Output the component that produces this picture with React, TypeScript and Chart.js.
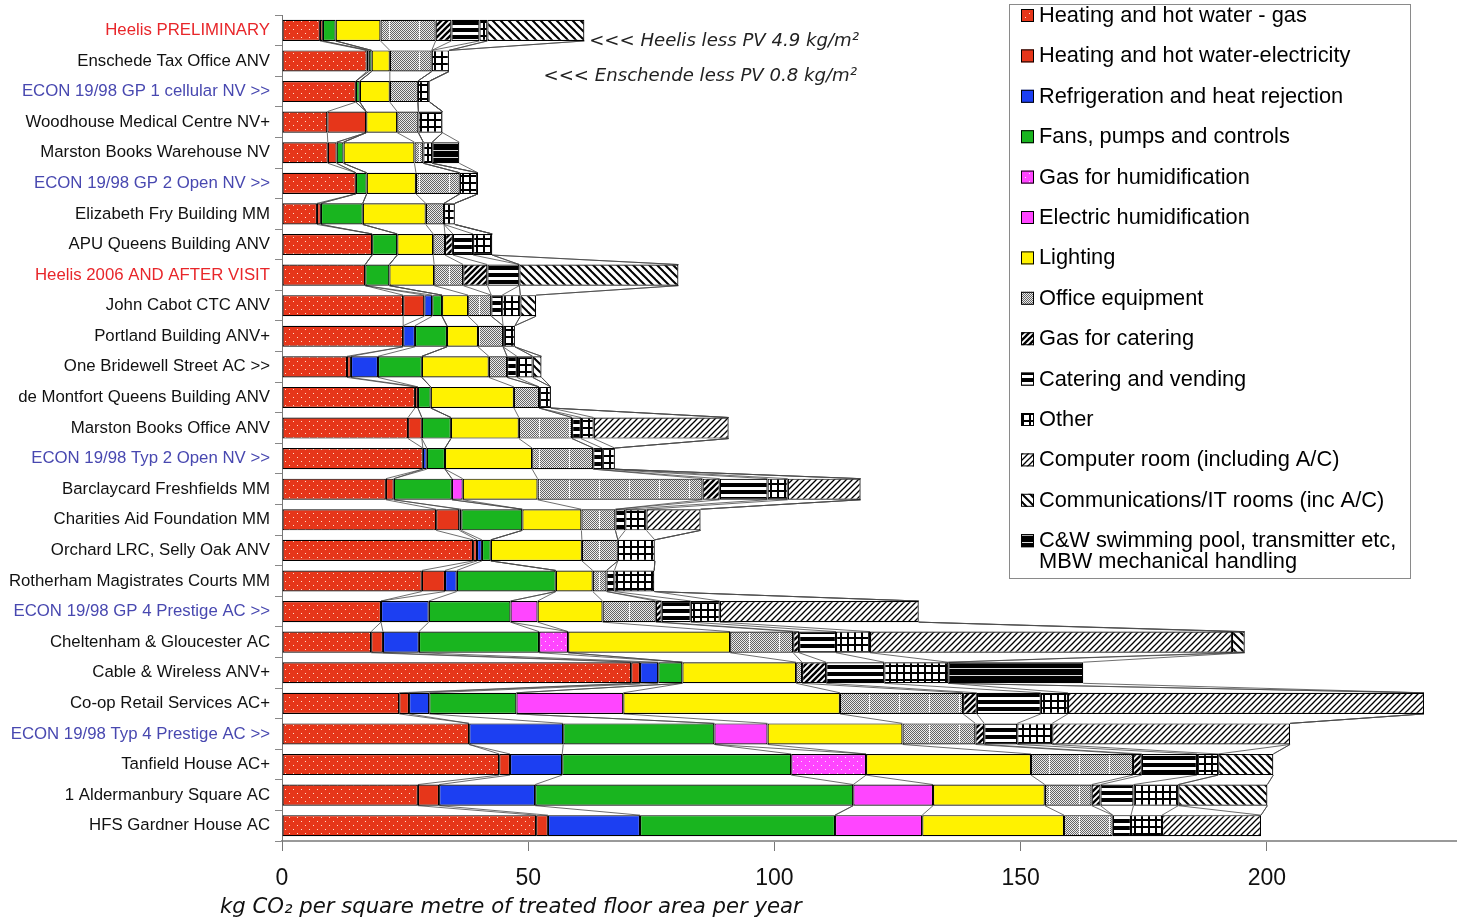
import React, { useEffect, useRef } from 'react';
import { Chart, registerables } from 'chart.js';
Chart.register(...registerables);

const categories = [
  'Heelis PRELIMINARY',
  'Enschede Tax Office ANV',
  'ECON 19/98 GP 1 cellular NV >>',
  'Woodhouse Medical Centre NV+',
  'Marston Books Warehouse NV',
  'ECON 19/98 GP 2 Open NV >>',
  'Elizabeth Fry Building MM',
  'APU Queens Building ANV',
  'Heelis 2006 AND AFTER VISIT',
  'John Cabot CTC ANV',
  'Portland Building ANV+',
  'One Bridewell Street AC >>',
  'de Montfort Queens Building ANV',
  'Marston Books Office ANV',
  'ECON 19/98 Typ 2 Open NV >>',
  'Barclaycard Freshfields MM',
  'Charities Aid Foundation MM',
  'Orchard LRC, Selly Oak ANV',
  'Rotherham Magistrates Courts MM',
  'ECON 19/98 GP 4 Prestige AC >>',
  'Cheltenham & Gloucester AC',
  'Cable & Wireless ANV+',
  'Co-op Retail Services AC+',
  'ECON 19/98 Typ 4 Prestige AC >>',
  'Tanfield House AC+',
  '1 Aldermanbury Square AC',
  'HFS Gardner House AC',
];

const labelKinds = [
  'red', 'black', 'blue', 'black', 'black', 'blue', 'black', 'black', 'red', 'black',
  'black', 'black', 'black', 'black', 'blue', 'black', 'black', 'black', 'black', 'blue',
  'black', 'black', 'black', 'blue', 'black', 'black', 'black',
];

const seriesNames = [
  'Heating and hot water - gas',
  'Heating and hot water-electricity',
  'Refrigeration and heat rejection',
  'Fans, pumps and controls',
  'Gas for humidification',
  'Electric humidification',
  'Lighting',
  'Office equipment',
  'Gas for catering',
  'Catering and vending',
  'Other',
  'Computer room (including A/C)',
  'Communications/IT rooms (inc A/C)',
  'C&W swimming pool, transmitter etc, MBW mechanical handling',
];

const heatGas = [7.7, 17.2, 15.0, 9.2, 9.3, 15.0, 7.1, 18.3, 16.9, 24.6, 24.6, 13.2, 27.0, 25.6, 28.6, 21.1, 31.3, 38.8, 28.4, 20.1, 18.1, 70.9, 23.8, 38.0, 44.1, 27.6, 51.6];
const heatElec = [0.6, 0.4, 0, 7.9, 1.8, 0, 0.8, 0, 0, 4.3, 0, 0.8, 0.6, 2.8, 0, 1.6, 4.7, 0.8, 4.7, 0, 2.4, 1.8, 2.0, 0, 2.2, 4.3, 2.4];
const refrig = [0, 0, 0, 0, 0, 0, 0, 0, 0, 1.6, 2.4, 5.5, 0, 0, 0.8, 0, 0.4, 1.0, 2.4, 9.7, 7.3, 3.7, 4.1, 19.1, 10.6, 19.5, 18.7];
const fans = [2.6, 0.6, 0.8, 0, 1.4, 2.2, 8.5, 5.1, 4.9, 2.0, 6.5, 8.9, 2.6, 5.9, 3.7, 11.8, 12.4, 1.8, 20.1, 16.6, 24.4, 4.9, 17.7, 30.7, 46.5, 64.6, 39.6];
const gasHumid = [0, 0, 0, 0, 0, 0, 0, 0, 0, 0, 0, 0, 0, 0, 0, 0, 0, 0, 0, 0, 5.9, 0, 0, 0, 15.2, 0, 0];
const elecHumid = [0, 0, 0, 0, 0, 0, 0, 0, 0, 0, 0, 0, 0, 0, 0, 2.2, 0, 0, 0, 5.5, 0, 0, 21.7, 10.8, 0, 16.2, 17.7];
const lighting = [9.1, 3.7, 6.1, 6.3, 14.4, 10.0, 12.8, 7.3, 9.1, 5.3, 6.3, 13.6, 16.9, 13.8, 17.7, 15.2, 12.0, 18.5, 7.5, 13.2, 32.9, 23.1, 44.0, 27.4, 33.5, 22.7, 28.8];
const office = [11.2, 8.5, 5.7, 4.3, 1.8, 8.9, 3.7, 2.4, 5.9, 4.7, 5.1, 3.7, 5.1, 10.8, 12.4, 33.5, 6.9, 7.3, 2.8, 10.8, 12.8, 1.2, 25.0, 14.8, 20.7, 9.5, 9.9];
const gasCatering = [3.2, 0, 0, 0, 0, 0, 0, 1.6, 4.9, 0, 0, 0, 0, 0, 0, 3.5, 0, 0, 0, 1.2, 1.2, 4.9, 2.8, 1.8, 1.8, 1.8, 0];
const cateringVending = [5.7, 0, 0, 0, 0, 0, 0, 4.1, 6.5, 2.2, 0, 2.0, 0, 1.8, 1.8, 9.7, 2.0, 0, 1.6, 5.9, 7.5, 11.8, 13.0, 6.7, 11.2, 6.7, 3.7];
const other = [1.6, 3.5, 2.4, 4.9, 1.8, 3.7, 2.2, 3.9, 0, 3.7, 2.4, 3.2, 2.4, 2.6, 2.6, 4.1, 4.3, 7.5, 8.1, 5.9, 6.9, 13.0, 5.5, 7.1, 4.3, 9.1, 6.3];
const computerRoom = [0, 0, 0, 0, 0, 0, 0, 0, 0, 0, 0, 0, 0, 27.4, 0, 14.8, 11.0, 0, 0, 40.4, 73.5, 0, 72.3, 48.3, 0, 0, 20.1];
const commsRooms = [19.7, 0, 0, 0, 0, 0, 0, 0, 32.3, 3.2, 0, 1.8, 0, 0, 0, 0, 0, 0, 0, 0, 2.6, 0, 0, 0, 11.2, 18.1, 0];
const cwSpecial = [0, 0, 0, 0, 5.5, 0, 0, 0, 0, 0, 0, 0, 0, 0, 0, 0, 0, 0, 0, 0, 0, 27.4, 0, 0, 0, 0, 0];

const xTicks = [0, 50, 100, 150, 200];

const seriesData = [heatGas, heatElec, refrig, fans, gasHumid, elecHumid, lighting, office, gasCatering, cateringVending, other, computerRoom, commsRooms, cwSpecial];
const patternKinds = ['dotRed', 'red', 'blue', 'green', 'dotMagenta', 'magenta', 'yellow', 'office', 'gasCater', 'catVend', 'other', 'computer', 'comms', 'cw'];

const RED = '#e6361a';
const MAGENTA = '#ff45ff';

function tile(w: number, h: number, draw: (c: CanvasRenderingContext2D) => void): CanvasPattern {
  const cv = document.createElement('canvas');
  cv.width = w; cv.height = h;
  const c = cv.getContext('2d')!;
  draw(c);
  const probe = document.createElement('canvas').getContext('2d')!;
  return probe.createPattern(cv, 'repeat')!;
}

function diag(c: CanvasRenderingContext2D, s: number, lw: number, forward: boolean) {
  c.fillStyle = '#fff'; c.fillRect(0, 0, s, s);
  c.strokeStyle = '#000'; c.lineWidth = lw;
  const segs = forward
    ? [[-1, s + 1, s + 1, -1], [-1, 1, 1, -1], [s - 1, s + 1, s + 1, s - 1]]
    : [[-1, -1, s + 1, s + 1], [s - 1, -1, s + 1, 1], [-1, s - 1, 1, s + 1]];
  for (const [a, b, d, e] of segs) { c.beginPath(); c.moveTo(a, b); c.lineTo(d, e); c.stroke(); }
}

function makeFill(kind: string): CanvasPattern | string {
  switch (kind) {
    case 'dotRed':
      return tile(8, 8, (c) => { c.fillStyle = RED; c.fillRect(0, 0, 8, 8); c.fillStyle = 'rgba(255,225,205,1)'; c.fillRect(1, 1, 1, 1); c.fillRect(5, 5, 1, 1); });
    case 'red': return RED;
    case 'blue': return '#1c3ff2';
    case 'green': return '#19b51f';
    case 'dotMagenta':
      return tile(8, 8, (c) => { c.fillStyle = MAGENTA; c.fillRect(0, 0, 8, 8); c.fillStyle = '#ffe0ff'; c.fillRect(1, 1, 1, 1); c.fillRect(5, 5, 1, 1); });
    case 'magenta': return MAGENTA;
    case 'yellow': return '#fff200';
    case 'office':
      return tile(30, 4, (c) => {
        c.fillStyle = '#ececec'; c.fillRect(0, 0, 30, 4);
        c.fillStyle = '#666';
        for (let x = 0; x < 29; x++) for (let y = 0; y < 4; y++) if ((x + y) % 2 === 0) c.fillRect(x, y, 1, 1);
        c.fillStyle = '#f6f6f6'; c.fillRect(29, 0, 1, 4);
      });
    case 'gasCater': return tile(6, 6, (c) => diag(c, 6, 2.4, true));
    case 'catVend':
      return tile(4, 7, (c) => { c.fillStyle = '#000'; c.fillRect(0, 0, 4, 7); c.fillStyle = '#fff'; c.fillRect(0, 4, 4, 3); });
    case 'other':
      return tile(7, 7, (c) => { c.fillStyle = '#fff'; c.fillRect(0, 0, 7, 7); c.fillStyle = '#000'; c.fillRect(0, 0, 2, 7); c.fillRect(0, 0, 7, 2); });
    case 'computer': return tile(6, 6, (c) => diag(c, 6, 1.3, true));
    case 'comms': return tile(8, 8, (c) => diag(c, 8, 2, false));
    case 'cw':
      return tile(4, 7, (c) => { c.fillStyle = '#000'; c.fillRect(0, 0, 4, 7); c.fillStyle = '#d8d8d8'; c.fillRect(0, 3, 4, 1); });
  }
  return '#999';
}

const seriesLinesPlugin = {
  id: 'seriesLines',
  beforeDatasetsDraw(chart: any) {
    const { ctx } = chart;
    const xs = chart.scales.x;
    const ds = chart.data.datasets;
    const meta0 = chart.getDatasetMeta(0);
    const n = chart.data.labels.length;
    ctx.save();
    ctx.strokeStyle = '#4a4a4a';
    ctx.lineWidth = 0.8;
    for (let i = 0; i < n - 1; i++) {
      const e1 = meta0.data[i].getProps(['y', 'height'], true);
      const e2 = meta0.data[i + 1].getProps(['y', 'height'], true);
      const y1 = e1.y + e1.height / 2;
      const y2 = e2.y - e2.height / 2;
      let c1 = 0, c2 = 0;
      for (let d = 0; d < ds.length; d++) {
        c1 += ds[d].data[i];
        c2 += ds[d].data[i + 1];
        ctx.beginPath();
        ctx.moveTo(xs.getPixelForValue(c1), y1);
        ctx.lineTo(xs.getPixelForValue(c2), y2);
        ctx.stroke();
      }
    }
    ctx.restore();
  },
};

const decorPlugin = {
  id: 'decor',
  afterDraw(chart: any) {
    const { ctx } = chart;
    ctx.save();
    // Legend box
    ctx.fillStyle = '#fff';
    ctx.fillRect(1009, 4, 401, 574);
    ctx.strokeStyle = '#8a8a8a';
    ctx.lineWidth = 1;
    ctx.strokeRect(1009.5, 4.5, 401, 574);
    ctx.font = '21.8px "Liberation Sans", Arial, sans-serif';
    ctx.textBaseline = 'middle';
    ctx.textAlign = 'left';
    chart.data.datasets.forEach((ds: any, k: number) => {
      const yc = 16 + 40.4 * k;
      ctx.fillStyle = ds.backgroundColor;
      ctx.fillRect(1021, yc - 7, 13, 13);
      ctx.strokeStyle = '#000';
      ctx.lineWidth = 1;
      ctx.strokeRect(1021.5, yc - 6.5, 12, 12);
      ctx.fillStyle = '#000';
      const parts = String(ds.label).split(', MBW');
      if (parts.length > 1) {
        ctx.fillText(parts[0] + ',', 1039, yc);
        ctx.fillText('MBW' + parts[1], 1039, yc + 21);
      } else {
        ctx.fillText(ds.label, 1039, yc);
      }
    });
    // Annotations
    ctx.fillStyle = '#222';
    ctx.textAlign = 'right';
    ctx.textBaseline = 'alphabetic';
    const a1 = '<<< Heelis less PV 4.9 kg/m\u00b2';
    const a2 = '<<< Enschende less PV 0.8 kg/m\u00b2';
    ctx.font = 'italic 17px "DejaVu Sans", Verdana, sans-serif';
    const fs = 17 * 270 / ctx.measureText(a1).width;
    ctx.font = `italic ${fs.toFixed(2)}px "DejaVu Sans", Verdana, sans-serif`;
    ctx.fillText(a1, 859, 46);
    ctx.fillText(a2, 857, 81);
    // Axis title
    const t = 'kg CO\u2082 per square metre of treated floor area per year';
    ctx.font = 'italic 19px "DejaVu Sans", Verdana, sans-serif';
    const ts = 19 * 582 / ctx.measureText(t).width;
    ctx.font = `italic ${ts.toFixed(2)}px "DejaVu Sans", Verdana, sans-serif`;
    ctx.fillStyle = '#111';
    ctx.textAlign = 'left';
    ctx.fillText(t, 220, 913);
    ctx.restore();
  },
};

export default function App() {
  const ref = useRef<HTMLCanvasElement | null>(null);
  useEffect(() => {
    document.body.style.margin = '0';
    document.body.style.overflow = 'hidden';
    const canvas = ref.current!;
    const labelColor = (k: string) => (k === 'red' ? '#e8262a' : k === 'blue' ? '#4848b0' : '#111');
    const chart = new Chart(canvas, {
      type: 'bar',
      data: {
        labels: categories,
        datasets: seriesNames.map((name, i) => ({
          label: name,
          data: seriesData[i],
          backgroundColor: makeFill(patternKinds[i]) as any,
          borderColor: '#000',
          borderWidth: 1.2,
          borderSkipped: false,
          categoryPercentage: 1,
          barPercentage: 0.69,
        })),
      },
      options: {
        indexAxis: 'y',
        responsive: false,
        animation: false,
        devicePixelRatio: 1,
        layout: { padding: { top: 13, right: 0, left: 0, bottom: 0 } },
        plugins: { legend: { display: false }, tooltip: { enabled: false }, title: { display: false } },
        scales: {
          x: {
            stacked: true,
            min: 0,
            max: 238.6,
            afterFit: (s: any) => { s.height = 78; },
            afterBuildTicks: (s: any) => { s.ticks = xTicks.map((v) => ({ value: v })); },
            ticks: {
              font: { size: 23, family: '"Liberation Sans", Arial, sans-serif' },
              color: '#111',
              padding: 14,
              maxRotation: 0,
            },
            grid: { drawOnChartArea: false, drawTicks: true, tickLength: 10, color: '#777', lineWidth: 1 },
            border: { display: true, color: '#999', width: 2 },
          },
          y: {
            stacked: true,
            afterFit: (s: any) => { s.width = 282; },
            ticks: {
              font: { size: 16.8, family: '"Liberation Sans", Arial, sans-serif' },
              color: (c: any) => labelColor(labelKinds[c.index]),
              padding: 5,
              autoSkip: false,
            },
            grid: { drawOnChartArea: false, offset: true, tickLength: 7, color: '#888' },
            border: { display: true, color: '#777', width: 1 },
          },
        },
      },
      plugins: [seriesLinesPlugin, decorPlugin],
    });
    return () => chart.destroy();
  }, []);
  return (
    <div style={{ width: 1457, height: 919 }}>
      <canvas ref={ref} width={1457} height={919} style={{ display: 'block' }} />
    </div>
  );
}
